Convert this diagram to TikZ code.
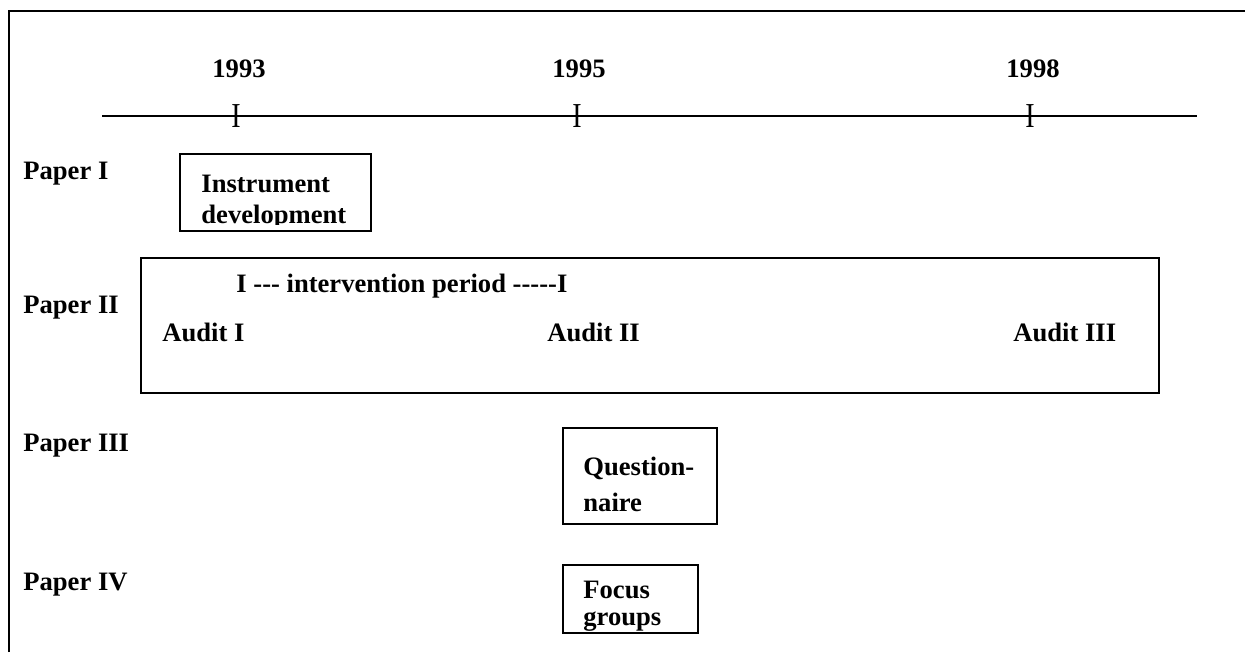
\documentclass[tikz,border=0pt]{standalone}
\usepackage{fontspec}
\newfontfamily\tnr{Liberation Serif}
\usetikzlibrary{fit}
\begin{document}
\begin{tikzpicture}[x=0.5pt,y=-0.5pt,
  lbl/.style={font=\tnr\bfseries\fontsize{13.3}{15}\selectfont, inner sep=0pt, anchor=base west},
  yr/.style={font=\tnr\bfseries\fontsize{13.3}{15}\selectfont, inner sep=0pt, anchor=base},
  tick/.style={font=\tnr\fontsize{14}{15}\selectfont, inner sep=0pt, yscale=1.25},
  frame/.style={draw, line width=1pt, inner sep=0pt},
  rule/.style={line width=1pt}]
\useasboundingbox (0,0) rectangle (1245,652);
% outer border (top and left only)
\coordinate (bl) at (9,652);
\coordinate (tl) at (9,11);
\coordinate (tr) at (1245,11);
\draw[line width=1.2pt] (bl) -- (tl) -- (tr);
% timeline
\coordinate (t0) at (102,116);
\coordinate (t1) at (1197,116);
\draw[rule] (t0) -- (t1);
\node[tick] (k93) at (236,116) {I};
\node[tick] (k95) at (577,116) {I};
\node[tick] (k98) at (1030,116) {I};
\node[yr] (y93) at (239,78) {1993};
\node[yr] (y95) at (579,78) {1995};
\node[yr] (y98) at (1033,78) {1998};
% paper labels
\node[lbl] (p1) at (23,180) {Paper I};
\node[lbl] (p2) at (23,313) {Paper II};
\node[lbl] (p3) at (23,451) {Paper III};
\node[lbl] (p4) at (23,590) {Paper IV};
% Paper I box
\coordinate (a1) at (180,154);
\coordinate (a2) at (371,231);
\node[frame, fit=(a1)(a2)] (box1) {};
\begin{scope}
\clip (180,154) rectangle (371,224);
\node[lbl] (instr) at (201,192) {Instrument};
\node[lbl] (devel) at (201,223) {development};
\end{scope}
% Paper II box
\coordinate (b1) at (141,258);
\coordinate (b2) at (1159,393);
\node[frame, fit=(b1)(b2)] (box2) {};
\node[lbl] (interv) at (236,292) {I --- intervention period -----I};
\node[lbl] (au1) at (162,341) {Audit I};
\node[lbl] (au2) at (547,341) {Audit II};
\node[lbl] (au3) at (1013,341) {Audit III};
% Paper III box
\coordinate (c1) at (563,428);
\coordinate (c2) at (717,524);
\node[frame, fit=(c1)(c2)] (box3) {};
\node[lbl] (q1) at (583,475) {Question-};
\node[lbl] (q2) at (583,511) {naire};
% Paper IV box
\coordinate (d1) at (563,565);
\coordinate (d2) at (698,633);
\node[frame, fit=(d1)(d2)] (box4) {};
\node[lbl] (f1) at (583,598) {Focus};
\node[lbl] (f2) at (583,625) {groups};
\end{tikzpicture}
\end{document}
